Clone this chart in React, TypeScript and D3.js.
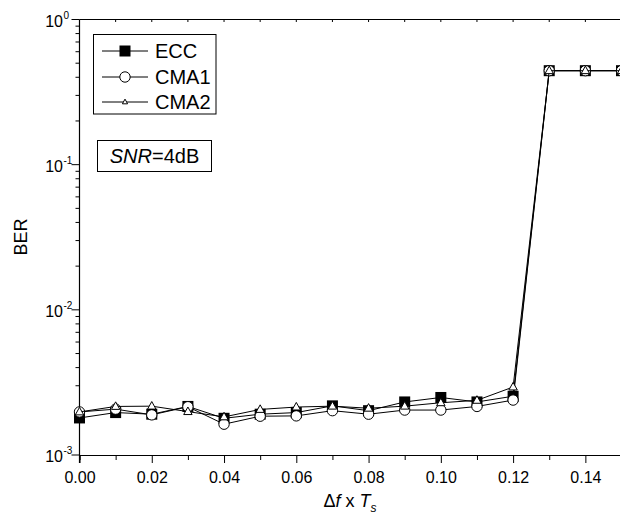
import * as d3 from "d3";
import {useEffect, useRef} from "react";

// frequency offset (Δf x Ts)
const offsets = [0, 0.01, 0.02, 0.03, 0.04, 0.05, 0.06, 0.07, 0.08, 0.09, 0.10, 0.11, 0.12, 0.13, 0.14, 0.15];
const ecc = [1.80e-3, 1.96e-3, 1.91e-3, 2.16e-3, 1.79e-3, 1.91e-3, 1.96e-3, 2.18e-3, 2.02e-3, 2.32e-3, 2.49e-3, 2.32e-3, 2.54e-3, 0.444, 0.444, 0.444];
const cma1 = [1.98e-3, 2.07e-3, 1.89e-3, 2.15e-3, 1.63e-3, 1.85e-3, 1.86e-3, 2.02e-3, 1.91e-3, 2.04e-3, 2.04e-3, 2.16e-3, 2.39e-3, 0.444, 0.444, 0.444];
const cma2 = [1.98e-3, 2.16e-3, 2.17e-3, 1.99e-3, 1.83e-3, 2.06e-3, 2.14e-3, 2.17e-3, 2.10e-3, 2.17e-3, 2.29e-3, 2.38e-3, 2.94e-3, 0.444, 0.444, 0.444];
const seriesNames = ["ECC", "CMA1", "CMA2"];
const xTickLabels = ["0.00", "0.02", "0.04", "0.06", "0.08", "0.10", "0.12", "0.14"];
const yExponents = [-3, -2, -1, 0];

const FONT = "'Liberation Sans', Arial, sans-serif";

function drawMarker(g, kind, x, y, small) {
    if (kind === 0) {
        g.append("rect").attr("x", x - 5.5).attr("y", y - 5.5).attr("width", 11).attr("height", 11)
            .attr("fill", "#000");
    } else if (kind === 1) {
        g.append("circle").attr("cx", x).attr("cy", y).attr("r", 5.2)
            .attr("fill", "#fff").attr("stroke", "#000").attr("stroke-width", 1);
    } else {
        const s = small ? 2.6 : 4.2;
        g.append("path")
            .attr("d", `M${x},${y - s * 1.1}L${x + s},${y + s * 0.7}L${x - s},${y + s * 0.7}Z`)
            .attr("fill", "#fff").attr("stroke", "#000").attr("stroke-width", 1);
    }
}

function BerChart() {
    const svgRef = useRef(null);

    useEffect(() => {
        const svg = d3.select(svgRef.current);
        svg.selectAll("*").remove();

        const left = 79.5, right = 621.5, top = 19.5, bottom = 455;

        const x = d3.scaleLinear().domain([0, 0.15]).range([left, right]);
        const y = d3.scaleLog().domain([1e-3, 1]).range([bottom, top]);

        // frame
        svg.append("line").attr("x1", left).attr("x2", right).attr("y1", top).attr("y2", top)
            .attr("stroke", "#000").attr("stroke-width", 1);

        // bottom axis
        const xAxis = svg.append("g").attr("transform", `translate(0,${bottom})`)
            .call(d3.axisBottom(x).tickValues(d3.range(0, 16).map(i => i / 100)).tickSize(5).tickFormat(() => ""));
        xAxis.selectAll(".tick line").filter((d, i) => i % 2 === 0).attr("y2", 8);
        xAxis.select(".domain").attr("stroke-width", 1.2);
        xAxis.selectAll(".tick").filter((d, i) => i % 2 === 0 && i / 2 < xTickLabels.length)
            .append("text")
            .attr("y", 28).attr("fill", "#000")
            .style("font-family", FONT).style("font-size", "16px")
            .attr("text-anchor", "middle")
            .text((d, i) => xTickLabels[i]);

        // top ticks (inward)
        svg.append("g").selectAll("line").data(d3.range(1, 15).map(i => i / 100)).join("line")
            .attr("x1", d => x(d)).attr("x2", d => x(d)).attr("y1", top).attr("y2", top + 2.5)
            .attr("stroke", "#000");

        // left axis
        const minor = [];
        yExponents.slice(0, -1).forEach(e => {
            for (let m = 2; m <= 9; m++) minor.push(m * Math.pow(10, e));
        });
        svg.append("line").attr("x1", left).attr("x2", left).attr("y1", top).attr("y2", bottom + 8)
            .attr("stroke", "#000").attr("stroke-width", 1.2);
        svg.append("g").selectAll("line").data(minor).join("line")
            .attr("x1", left - 4).attr("x2", left).attr("y1", d => y(d)).attr("y2", d => y(d))
            .attr("stroke", "#000");
        const yt = svg.append("g").selectAll("g").data(yExponents).join("g")
            .attr("transform", d => `translate(0,${y(Math.pow(10, d))})`);
        yt.append("line").attr("x1", left - 8).attr("x2", left).attr("stroke", "#000");
        const lbl = yt.append("text").attr("x", 63).attr("y", 7).attr("text-anchor", "end")
            .style("font-family", FONT).style("font-size", "16px");
        lbl.append("tspan").text("10");
        yt.append("text").attr("x", 63.5).attr("y", -1)
            .style("font-family", FONT).style("font-size", "10px")
            .text(d => String(d));

        // axis titles
        svg.append("text").attr("transform", `translate(27,237) rotate(-90)`)
            .attr("text-anchor", "middle")
            .style("font-family", FONT).style("font-size", "18px").text("BER");
        const xt = svg.append("text").attr("x", 350).attr("y", 507).attr("text-anchor", "middle")
            .style("font-family", FONT).style("font-size", "18px");
        xt.append("tspan").text("\u0394");
        xt.append("tspan").style("font-style", "italic").text("f");
        xt.append("tspan").text(" x ");
        xt.append("tspan").style("font-style", "italic").text("T");
        xt.append("tspan").style("font-style", "italic").style("font-size", "12px").attr("dy", 5).text("s");

        // series
        const all = [ecc, cma1, cma2];
        const line = d3.line().x(d => x(d[0])).y(d => y(d[1]));
        const plot = svg.append("g");
        all.forEach((vals, k) => {
            const pts = offsets.map((o, i) => [o, vals[i]]);
            plot.append("path").attr("d", line(pts)).attr("fill", "none")
                .attr("stroke", "#000").attr("stroke-width", 1);
            pts.forEach(p => drawMarker(plot, k, x(p[0]), y(p[1]), false));
        });

        // legend
        const lg = svg.append("g");
        lg.append("rect").attr("x", 93.5).attr("y", 34.5).attr("width", 122.5).attr("height", 79.5)
            .attr("fill", "#fff").attr("stroke", "#000");
        const rows = [51, 77, 102];
        seriesNames.forEach((name, k) => {
            const ry = rows[k];
            lg.append("line").attr("x1", 102).attr("x2", 148).attr("y1", ry).attr("y2", ry)
                .attr("stroke", "#000");
            drawMarker(lg, k, 125, ry, true);
            lg.append("text").attr("x", 155).attr("y", ry + 7)
                .style("font-family", FONT).style("font-size", "20px").text(name);
        });

        // SNR note
        svg.append("rect").attr("x", 97.5).attr("y", 140.5).attr("width", 114).attr("height", 31)
            .attr("fill", "#fff").attr("stroke", "#000");
        const snr = svg.append("text").attr("x", 154.5).attr("y", 163).attr("text-anchor", "middle")
            .style("font-family", FONT).style("font-size", "20px");
        snr.append("tspan").style("font-style", "italic").text("SNR");
        snr.append("tspan").text("=4dB");
    }, []);

    return (
        <svg ref={svgRef} width={620} height={525}
             style={{position: "absolute", left: 0, top: 0, background: "#fff"}}>
        </svg>
    );
}

export default function App() {
    return <BerChart/>;
}
